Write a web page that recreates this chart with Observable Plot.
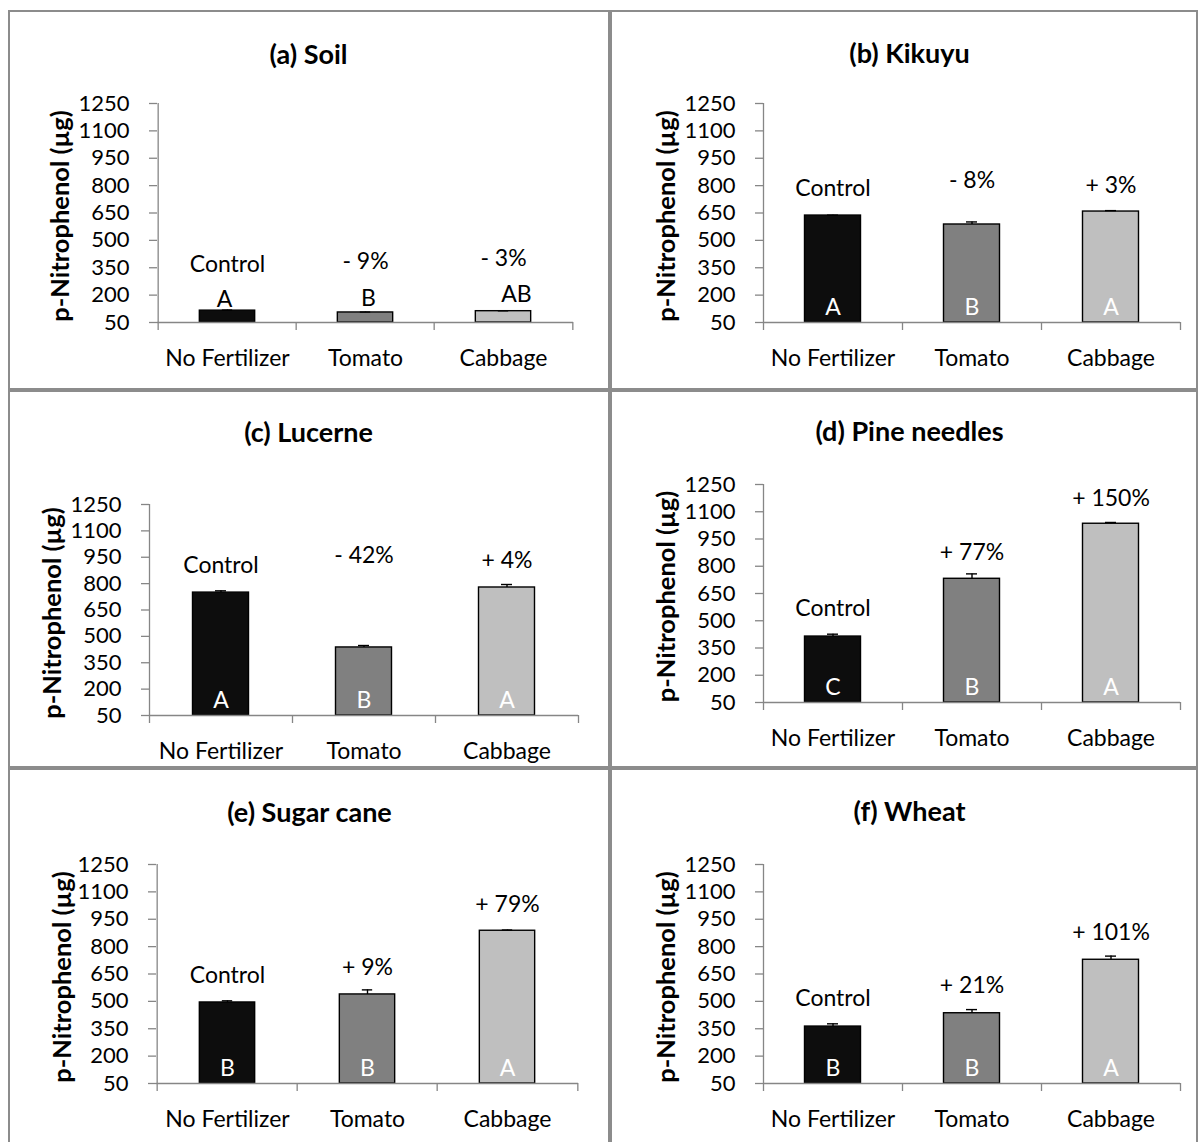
<!DOCTYPE html>
<html><head><meta charset="utf-8">
<script src="https://cdn.jsdelivr.net/npm/d3@7"></script>
<script src="https://cdn.jsdelivr.net/npm/@observablehq/plot@0.6"></script>
<style>
html,body{margin:0;padding:0;background:#fff;}
body{width:1198px;height:1142px;overflow:hidden;position:relative;font-family:Lato,sans-serif;}
.panel{position:absolute;box-sizing:border-box;border:2px solid #8c8c8c;}
</style></head><body>
<script>
// ---------- data ----------
const panelTitles = ["(a) Soil", "(b) Kikuyu", "(c) Lucerne", "(d) Pine needles", "(e) Sugar cane", "(f) Wheat"];
const treatments = ["No Fertilizer", "Tomato", "Cabbage"];
const means = [
  [115, 105, 112],
  [636, 587, 658],
  [749, 437, 778],
  [413, 731, 1034],
  [494, 538, 887],
  [362, 435, 728]
];
const errors = [
  [3, 2, 2],
  [2, 14, 5],
  [10, 11, 17],
  [13, 27, 7],
  [9, 25, 4],
  [15, 20, 20]
];
const changeLabels = [
  ["Control", "- 9%", "- 3%"],
  ["Control", "- 8%", "+ 3%"],
  ["Control", "- 42%", "+ 4%"],
  ["Control", "+ 77%", "+ 150%"],
  ["Control", "+ 9%", "+ 79%"],
  ["Control", "+ 21%", "+ 101%"]
];
const letters = [
  ["A", "B", "AB"],
  ["A", "B", "A"],
  ["A", "B", "A"],
  ["C", "B", "A"],
  ["B", "B", "A"],
  ["B", "B", "A"]
];
const yTicks = [50, 200, 350, 500, 650, 800, 950, 1100, 1250];
const yLabel = "p-Nitrophenol (µg)";

// ---------- layout (page pixels) ----------
const layout = [
  {left: 8,   top: 10,  w: 602, h: 380, xL: 157, xR: 573,  yT: 103, yB: 322,  tx: 308, ty: 55,  ylx: 60, inside: false, nudge: [-45, -50, -52], letterNudge: [-10, -13, -16], letterDx: [-3, 3, 13]},
  {left: 610, top: 10,  w: 588, h: 380, xL: 763, xR: 1180, yT: 103, yB: 322,  tx: 909, ty: 54,  ylx: 666, inside: true,  nudge: [-27, -41, -25]},
  {left: 8,   top: 390, w: 602, h: 378, xL: 149, xR: 578,  yT: 504, yB: 715,  tx: 308, ty: 433, ylx: 52, inside: true,  nudge: [-25, -90, -24]},
  {left: 610, top: 390, w: 588, h: 378, xL: 763, xR: 1180, yT: 484, yB: 702,  tx: 909, ty: 432, ylx: 666, inside: true,  nudge: [-26, -21, -24]},
  {left: 8,   top: 768, w: 602, h: 380, xL: 156, xR: 578,  yT: 864, yB: 1083, tx: 309, ty: 813, ylx: 62, inside: true,  nudge: [-25, -22, -25]},
  {left: 610, top: 768, w: 588, h: 380, xL: 763, xR: 1180, yT: 864, yB: 1083, tx: 909, ty: 812, ylx: 666, inside: true,  nudge: [-25, -24, -23]}
];
const fills = ["#0d0d0d", "#808080", "#bfbfbf"];
const gray = "#868686";
const FONT = "Lato, 'Open Sans', sans-serif";

layout.forEach((L, p) => {
  const div = document.createElement("div");
  div.className = "panel";
  Object.assign(div.style, {left: L.left + "px", top: L.top + "px", width: L.w + "px", height: L.h + "px"});
  document.body.appendChild(div);

  const H = Math.min(L.h, 1142 - L.top);
  const rows = treatments.map((t, i) => ({
    t, m: means[p][i], e: errors[p][i], top: means[p][i] + errors[p][i],
    lab: changeLabels[p][i], let: letters[p][i]
  }));
  const mL = L.xL - L.left, mR = L.left + L.w - L.xR, mT = L.yT - L.top, mB = L.top + H - L.yB;
  const bw = (L.xR - L.xL) / 3;
  const barInset = (bw - 56) / 2, capInset = (bw - 11) / 2;
  const tickLen = 8 * 1200 / (L.yB - L.yT); // 8px expressed in y units
  const low = 50 - tickLen;

  const marks = [
    Plot.barY(rows, {x: "t", y1: 50, y2: "m", fill: "t", stroke: "black", strokeWidth: 1.4, insetLeft: barInset, insetRight: barInset}),
    Plot.ruleX(rows, {x: "t", y1: "m", y2: "top", stroke: "black", strokeWidth: 1.4}),
    Plot.tickY(rows, {x: "t", y: "top", stroke: "black", strokeWidth: 1.4, insetLeft: capInset, insetRight: capInset}),
    Plot.ruleY([50], {stroke: gray, strokeWidth: 1.3}),
    // y axis line (extends below baseline) and category boundary ticks
    Plot.ruleX([treatments[0]], {x: d => d, dx: -bw / 2, y1: d => 1250, y2: d => low, stroke: gray, strokeWidth: 1.3}),
    Plot.ruleX(treatments.slice(1), {x: d => d, dx: -bw / 2, y1: d => 50, y2: d => low, stroke: gray, strokeWidth: 1.3}),
    Plot.ruleX([treatments[2]], {x: d => d, dx: bw / 2, y1: d => 50, y2: d => low, stroke: gray, strokeWidth: 1.3}),
    Plot.axisY({ticks: yTicks, tickFormat: d => String(d), tickSize: 8, tickPadding: 20, stroke: gray, strokeWidth: 1.3, fill: "black", fontSize: 22, label: null}),
    Plot.axisX({tickSize: 0, tickPadding: 27, fill: "black", fontSize: 23, label: null}),
    Plot.text([panelTitles[p]], {text: d => d, frameAnchor: "top", dx: L.tx - (L.xL + L.xR) / 2, dy: L.ty - L.yT, fontSize: 27, fontWeight: "bold", lineAnchor: "middle", fill: "black"}),
    Plot.text([yLabel], {text: d => d, frameAnchor: "left", rotate: -90, dx: L.ylx - L.xL, dy: 3, textAnchor: "middle", lineAnchor: "middle", fontSize: 25.5, fontWeight: "bold", fill: "black"})
  ];
  rows.forEach((r, i) => {
    marks.push(Plot.text([r], {x: "t", y: "top", text: "lab", dy: L.nudge[i], fontSize: 23, lineAnchor: "middle", fill: "black"}));
    if (L.inside) {
      marks.push(Plot.text([r], {x: "t", text: "let", frameAnchor: "bottom", dy: -15, fontSize: 23, lineAnchor: "middle", fill: "white"}));
    } else {
      marks.push(Plot.text([r], {x: "t", y: "top", text: "let", dy: L.letterNudge[i], dx: L.letterDx[i], fontSize: 23, lineAnchor: "middle", fill: "black"}));
    }
  });

  const chart = Plot.plot({
    width: L.w, height: H,
    marginLeft: mL, marginRight: mR, marginTop: mT, marginBottom: mB,
    x: {domain: treatments, padding: 0, axis: null},
    y: {domain: [50, 1250], axis: null},
    color: {domain: treatments, range: fills},
    style: {position: "absolute", left: L.left + "px", top: L.top + "px", fontFamily: FONT, background: "transparent", overflow: "visible"},
    marks
  });
  document.body.appendChild(chart);
});
</script></body></html>
